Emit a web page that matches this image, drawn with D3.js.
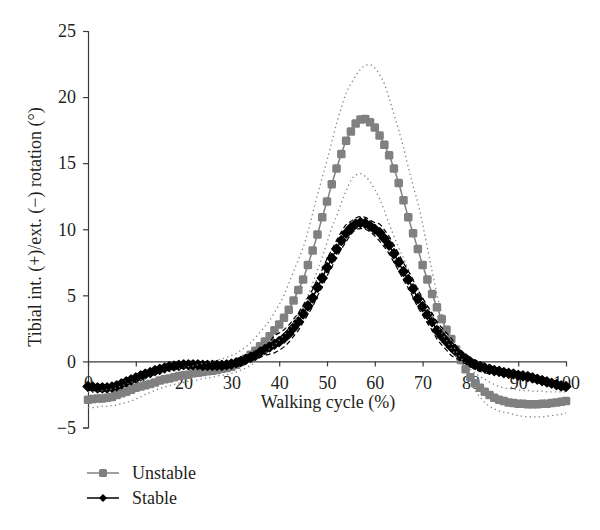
<!DOCTYPE html>
<html>
<head>
<meta charset="utf-8">
<script src="https://cdn.jsdelivr.net/npm/d3@7"></script>
<style>
  html, body { margin: 0; padding: 0; background: #fff; }
  svg { display: block; }
  text { font-family: "Liberation Serif", "Times New Roman", serif; fill: #231f20; }
</style>
</head>
<body>
<svg id="chart" width="600" height="530"></svg>
<script>
// ---- Data ----
const walkingCycle = d3.range(0, 101); // 0..100 %

const unstableMean = [-2.9,-2.85,-2.8,-2.8,-2.75,-2.7,-2.55,-2.4,-2.3,-2.15,
-2.0,-1.9,-1.8,-1.7,-1.6,-1.45,-1.35,-1.3,-1.2,-1.1,
-1.05,-1.0,-0.9,-0.85,-0.8,-0.75,-0.7,-0.65,-0.55,-0.5,
-0.4,-0.25,-0.05,0.2,0.5,0.8,1.15,1.5,1.9,2.35,
2.8,3.3,3.9,4.6,5.4,6.2,7.3,8.4,9.6,10.9,
12.1,13.4,14.6,15.7,16.7,17.4,18.0,18.3,18.35,18.1,
17.7,17.1,16.4,15.6,14.6,13.5,12.2,10.9,9.7,8.5,
7.3,6.2,5.1,4.1,3.2,2.4,1.7,0.9,0.1,-0.6,
-1.2,-1.65,-2.0,-2.3,-2.55,-2.75,-2.9,-3.0,-3.1,-3.15,
-3.2,-3.2,-3.25,-3.25,-3.25,-3.2,-3.2,-3.15,-3.1,-3.05,-3.0];

const unstableUpper = [-2.3,-2.3,-2.25,-2.2,-2.15,-2.1,-2.0,-1.85,-1.75,-1.6,
-1.5,-1.4,-1.25,-1.15,-1.0,-0.9,-0.8,-0.7,-0.65,-0.55,
-0.5,-0.4,-0.35,-0.25,-0.15,-0.1,0.0,0.1,0.2,0.3,
0.45,0.6,0.85,1.1,1.4,1.8,2.2,2.65,3.1,3.7,
4.3,5.0,5.9,6.8,7.7,8.6,9.8,11.2,12.6,13.9,
15.2,16.6,18.0,19.2,20.3,21.0,21.6,22.1,22.4,22.45,
22.2,21.7,21.0,19.9,18.7,17.5,16.2,14.7,13.3,12.0,
10.4,8.6,6.8,5.1,3.6,2.4,1.5,0.8,0.25,-0.2,
-0.6,-0.9,-1.15,-1.35,-1.55,-1.75,-1.9,-2.0,-2.05,-2.1,
-2.15,-2.2,-2.2,-2.25,-2.25,-2.25,-2.3,-2.3,-2.3,-2.3,-2.3];

const unstableLower = [-3.5,-3.5,-3.45,-3.4,-3.4,-3.35,-3.3,-3.2,-3.1,-3.0,
-2.85,-2.7,-2.5,-2.35,-2.2,-2.05,-1.95,-1.85,-1.75,-1.65,
-1.6,-1.5,-1.45,-1.4,-1.3,-1.25,-1.2,-1.1,-1.05,-1.0,
-0.9,-0.8,-0.65,-0.5,-0.3,-0.05,0.3,0.6,0.95,1.25,
1.6,2.0,2.4,2.9,3.5,4.2,5.0,5.9,6.9,7.9,
9.0,10.1,11.0,12.0,12.9,13.7,14.1,14.2,14.0,13.6,
13.0,12.3,11.4,10.4,9.5,8.6,7.8,7.0,6.2,5.5,
4.8,4.1,3.4,2.8,2.2,1.6,1.0,0.4,-0.2,-0.8,
-1.6,-2.2,-2.7,-3.1,-3.4,-3.6,-3.75,-3.85,-3.9,-4.0,
-4.1,-4.15,-4.2,-4.2,-4.2,-4.2,-4.15,-4.1,-4.05,-4.0,-3.9];

const stableMean = [-1.9,-1.95,-2.0,-2.0,-2.0,-1.95,-1.85,-1.7,-1.55,-1.4,
-1.25,-1.1,-0.95,-0.85,-0.7,-0.6,-0.5,-0.4,-0.35,-0.3,
-0.25,-0.25,-0.25,-0.25,-0.3,-0.3,-0.3,-0.3,-0.3,-0.25,
-0.2,-0.1,0.0,0.15,0.3,0.45,0.7,0.9,1.1,1.3,
1.5,1.75,2.1,2.55,3.0,3.6,4.2,4.8,5.6,6.3,
7.1,7.8,8.5,9.15,9.7,10.1,10.4,10.5,10.45,10.25,
10.0,9.75,9.3,8.8,8.15,7.5,6.8,6.2,5.5,4.75,
4.15,3.55,3.0,2.35,1.9,1.5,1.1,0.75,0.45,0.2,
-0.05,-0.25,-0.4,-0.5,-0.6,-0.7,-0.75,-0.85,-0.9,-0.95,
-1.05,-1.1,-1.15,-1.25,-1.35,-1.45,-1.55,-1.65,-1.75,-1.85,-1.9];

const stableUpper = [-1.65,-1.7,-1.75,-1.75,-1.75,-1.7,-1.6,-1.45,-1.3,-1.15,
-1.0,-0.85,-0.7,-0.6,-0.45,-0.35,-0.25,-0.15,-0.1,-0.05,
0.0,0.0,0.0,0.0,-0.05,-0.05,-0.05,-0.05,-0.05,0.0,
0.05,0.2,0.3,0.45,0.6,0.75,0.95,1.15,1.45,1.95,
2.15,2.4,2.75,3.2,3.65,4.25,4.85,5.45,6.25,6.95,
7.75,8.45,9.15,9.8,10.35,10.6,10.85,10.95,10.9,10.7,
10.5,10.4,9.95,9.45,8.8,8.15,7.45,6.85,6.15,5.4,
4.8,4.2,3.65,3.0,2.55,2.15,1.75,1.2,0.85,0.55,
0.3,0.1,-0.05,-0.15,-0.25,-0.45,-0.5,-0.6,-0.65,-0.7,
-0.8,-0.85,-0.9,-1.0,-1.1,-1.2,-1.3,-1.4,-1.5,-1.6,-1.65];

const stableLower = [-2.15,-2.2,-2.25,-2.25,-2.25,-2.2,-2.1,-1.95,-1.8,-1.65,
-1.5,-1.35,-1.2,-1.1,-0.95,-0.85,-0.75,-0.65,-0.6,-0.55,
-0.5,-0.5,-0.5,-0.5,-0.55,-0.55,-0.55,-0.55,-0.55,-0.5,
-0.45,-0.4,-0.3,-0.15,0.0,0.15,0.3,0.45,0.55,0.65,
0.85,1.1,1.45,1.9,2.35,2.95,3.55,4.15,4.95,5.65,
6.45,7.15,7.85,8.5,9.05,9.6,9.95,10.05,10.0,9.8,
9.5,9.1,8.65,8.15,7.5,6.85,6.15,5.55,4.85,4.1,
3.5,2.9,2.35,1.7,1.25,0.85,0.45,0.25,0.0,-0.2,
-0.4,-0.6,-0.75,-0.85,-0.95,-0.95,-1.0,-1.1,-1.15,-1.2,
-1.3,-1.35,-1.4,-1.5,-1.6,-1.7,-1.8,-1.9,-2.0,-2.1,-2.15];

const xTicks = [0, 10, 20, 30, 40, 50, 60, 70, 80, 90, 100];
const yTicks = [-5, 0, 5, 10, 15, 20, 25];
const legendLabels = ["Unstable", "Stable"];
const xTitle = "Walking cycle (%)";
const yTitle = "Tibial int. (+)/ext. (\u2212) rotation (\u00B0)";

// ---- Chart ----
const svg = d3.select("#chart");
const GRAY = "#808080";
const AXIS = "#3a3a3a";

const x = d3.scaleLinear().domain([0, 100]).range([88, 566]);
const y = d3.scaleLinear().domain([-5, 25]).range([427.5, 31]);

// Y axis
const yAxis = svg.append("g")
  .attr("transform", `translate(${x(0)},0)`)
  .call(d3.axisLeft(y).tickValues(yTicks).tickSize(5).tickPadding(7)
    .tickFormat(d => d < 0 ? "\u2212" + Math.abs(d) : d));
yAxis.select(".domain").attr("stroke", AXIS).attr("stroke-width", 1.2);
yAxis.selectAll(".tick line").attr("stroke", AXIS).attr("stroke-width", 1.2);
yAxis.selectAll("text").attr("font-size", 18).attr("font-family", "Liberation Serif").attr("fill", "#231f20");

// X axis at y = 0
const xAxis = svg.append("g")
  .attr("transform", `translate(0,${y(0)})`)
  .call(d3.axisBottom(x).tickValues(xTicks).tickSize(5).tickPadding(10).tickSizeOuter(0));
xAxis.select(".domain").attr("stroke", AXIS).attr("stroke-width", 1.2);
xAxis.selectAll(".tick line").attr("stroke", AXIS).attr("stroke-width", 1.2);
xAxis.selectAll("text").attr("font-size", 18).attr("font-family", "Liberation Serif").attr("fill", "#231f20");

// Axis titles
svg.append("text")
  .attr("x", 328).attr("y", 408)
  .attr("text-anchor", "middle").attr("font-size", 18)
  .text(xTitle);
svg.append("text")
  .attr("transform", "translate(41,227) rotate(-90)")
  .attr("text-anchor", "middle").attr("font-size", 18)
  .text(yTitle);

const line = (arr) => d3.line()
  .x((d, i) => x(walkingCycle[i]))
  .y(d => y(d))
  .curve(d3.curveMonotoneX)(arr);

const diamond = (r) => `M0,${-r}L${r},0L0,${r}L${-r},0Z`;

const plot = svg.append("g");

// Unstable mean
plot.append("path").attr("d", line(unstableMean))
  .attr("fill", "none").attr("stroke", GRAY).attr("stroke-width", 1.5);
plot.append("g").selectAll("rect").data(unstableMean).join("rect")
  .attr("x", (d, i) => x(walkingCycle[i]) - 4.25)
  .attr("y", d => y(d) - 4.25)
  .attr("width", 8.5).attr("height", 8.5).attr("rx", 1.5)
  .attr("fill", GRAY);

// Stable mean
plot.append("path").attr("d", line(stableMean))
  .attr("fill", "none").attr("stroke", "#000").attr("stroke-width", 1.5);
plot.append("g").selectAll("path").data(stableMean).join("path")
  .attr("transform", (d, i) => `translate(${x(walkingCycle[i])},${y(d)})`)
  .attr("d", diamond(4.8))
  .attr("fill", "#000").attr("stroke", "#000").attr("stroke-width", 1.5).attr("stroke-linejoin", "round");

// SD lines
[unstableUpper, unstableLower].forEach(arr => {
  plot.append("path").attr("d", line(arr))
    .attr("fill", "none").attr("stroke", GRAY).attr("stroke-width", 1.3)
    .attr("stroke-dasharray", "1.3,3.2");
});
[stableUpper, stableLower].forEach(arr => {
  plot.append("path").attr("d", line(arr))
    .attr("fill", "none").attr("stroke", "#000").attr("stroke-width", 1.2)
    .attr("stroke-dasharray", "5,3");
});

// Legend
const legend = svg.append("g");
const legendY = [473, 498];
// Unstable
legend.append("line").attr("x1", 87).attr("x2", 119).attr("y1", legendY[0]).attr("y2", legendY[0])
  .attr("stroke", GRAY).attr("stroke-width", 1.5);
legend.append("rect").attr("x", 103 - 4).attr("y", legendY[0] - 4).attr("width", 8).attr("height", 8)
  .attr("rx", 1.5).attr("fill", GRAY);
legend.append("text").attr("x", 132).attr("y", legendY[0] + 6).attr("font-size", 18).text(legendLabels[0]);
// Stable
legend.append("line").attr("x1", 87).attr("x2", 119).attr("y1", legendY[1]).attr("y2", legendY[1])
  .attr("stroke", "#000").attr("stroke-width", 1.5);
legend.append("path").attr("transform", `translate(103,${legendY[1]})`).attr("d", diamond(4))
  .attr("fill", "#000");
legend.append("text").attr("x", 132).attr("y", legendY[1] + 6).attr("font-size", 18).text(legendLabels[1]);
</script>
</body>
</html>
